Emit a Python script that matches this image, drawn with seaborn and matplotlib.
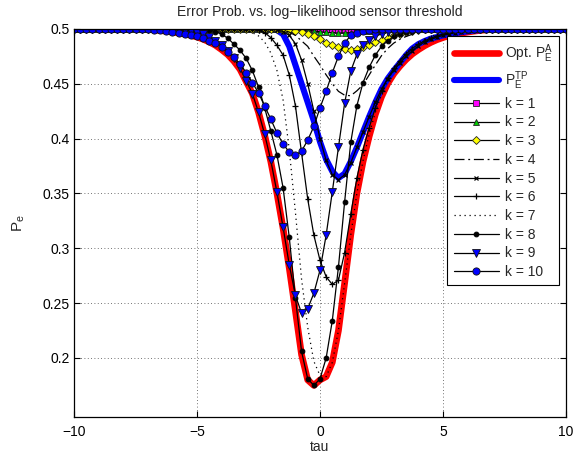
import numpy as np
import pandas as pd
import matplotlib
matplotlib.use("Agg")
import matplotlib.pyplot as plt
import seaborn as sns

# Sensor log-likelihood threshold grid
TAU = np.arange(-10.0, 10.0 + 1e-9, 0.25)

# Each curve: first threshold where it leaves 0.5, then its values (0.5 outside)
OPT_START = -7.0
OPT = [0.4995, 0.499, 0.4985, 0.4978, 0.497, 0.4962, 0.4953, 0.494, 0.4925, 0.4905,
       0.488, 0.485, 0.481, 0.4765, 0.4705, 0.463, 0.452, 0.441, 0.424, 0.403,
       0.379, 0.35, 0.318, 0.282, 0.243, 0.203, 0.18, 0.175, 0.18, 0.183,
       0.196, 0.225, 0.268, 0.312, 0.35, 0.379, 0.402, 0.422, 0.438, 0.45,
       0.459, 0.466, 0.472, 0.477, 0.481, 0.4845, 0.4875, 0.49, 0.492, 0.4937,
       0.495, 0.496, 0.497, 0.4978, 0.4985, 0.499, 0.4995]

TP_START = -2.0
TP = [0.4998, 0.4988, 0.495, 0.484, 0.467, 0.45, 0.433, 0.416, 0.397, 0.381,
      0.37, 0.364, 0.368, 0.379, 0.392, 0.406, 0.42, 0.433, 0.445, 0.4545,
      0.462, 0.469, 0.476, 0.482, 0.486, 0.4888, 0.491, 0.4925, 0.494, 0.495,
      0.496, 0.497, 0.4977, 0.4983, 0.4988, 0.4993, 0.4997]

K1_START = 0.0
K1 = [0.4998, 0.4996, 0.4994, 0.4992, 0.499, 0.4989, 0.4988, 0.4988, 0.4989, 0.499,
      0.4992, 0.4994, 0.4996, 0.4998]

K2_START = -1.0
K2 = [0.4997, 0.4993, 0.4987, 0.498, 0.4973, 0.4967, 0.4963, 0.4961, 0.4962, 0.4966,
      0.4971, 0.4977, 0.4983, 0.4988, 0.4993, 0.4997]

K3_START = -1.75
K3 = [0.4995, 0.499, 0.4985, 0.498, 0.497, 0.495, 0.493, 0.4905, 0.4875, 0.4855,
      0.483, 0.4815, 0.481, 0.4815, 0.483, 0.4855, 0.4878, 0.49, 0.492, 0.494,
      0.4955, 0.497, 0.498, 0.4988, 0.4995]

K4_START = -1.75
K4 = [0.4995, 0.499, 0.497, 0.494, 0.489, 0.484, 0.475, 0.467, 0.458, 0.45,
      0.443, 0.4395, 0.439, 0.4435, 0.449, 0.458, 0.467, 0.4755, 0.482, 0.487,
      0.4905, 0.493, 0.495, 0.4965, 0.4975, 0.4983, 0.499, 0.4995]

K5_START = -2.0
K5 = [0.4995, 0.499, 0.4975, 0.494, 0.4865, 0.4715, 0.45, 0.425, 0.4, 0.38,
      0.367, 0.3625, 0.367, 0.378, 0.392, 0.406, 0.42, 0.433, 0.445, 0.4545,
      0.462, 0.469, 0.475, 0.48, 0.4845, 0.488, 0.4905, 0.4925, 0.494, 0.4953,
      0.4965, 0.4973, 0.498, 0.4985, 0.499, 0.4995]

K6_START = -2.75
K6 = [0.4995, 0.4985, 0.4965, 0.492, 0.485, 0.476, 0.458, 0.43, 0.387, 0.345,
      0.312, 0.289, 0.274, 0.267, 0.271, 0.296, 0.331, 0.364, 0.39, 0.41,
      0.428, 0.443, 0.455, 0.464, 0.471, 0.477, 0.482, 0.486, 0.489, 0.4915,
      0.4935, 0.495, 0.4962, 0.4972, 0.498, 0.4986, 0.4991, 0.4995]

K7_START = -3.75
K7 = [0.4998, 0.4995, 0.499, 0.498, 0.4965, 0.4935, 0.488, 0.478, 0.462, 0.435,
      0.39, 0.333, 0.272, 0.228, 0.197, 0.184, 0.183, 0.196, 0.225, 0.268,
      0.312, 0.35, 0.38, 0.404, 0.424, 0.44, 0.453, 0.463, 0.471, 0.478,
      0.483, 0.487, 0.4905, 0.493, 0.495, 0.4965, 0.4975, 0.4985, 0.499, 0.4995]

K8_START = -5.0
K8 = [0.4998, 0.4995, 0.499, 0.4975, 0.495, 0.4915, 0.486, 0.4805, 0.473, 0.462,
      0.447, 0.428, 0.407, 0.385, 0.355, 0.31, 0.255, 0.206, 0.181, 0.175,
      0.181, 0.2, 0.234, 0.283, 0.342, 0.3965, 0.43, 0.451, 0.465, 0.476,
      0.484, 0.489, 0.493, 0.4955, 0.497, 0.498, 0.499, 0.4995, 0.4998]

K9_START = -6.0
K9 = [0.4998, 0.4995, 0.499, 0.498, 0.4965, 0.495, 0.4925, 0.489, 0.485, 0.48,
      0.473, 0.464, 0.4525, 0.441, 0.424, 0.404, 0.38, 0.351, 0.319, 0.285,
      0.257, 0.241, 0.245, 0.259, 0.28, 0.312, 0.3515, 0.392, 0.432, 0.4614,
      0.4767, 0.485, 0.4895, 0.493, 0.4955, 0.497, 0.498, 0.499, 0.4995]

K10_START = -7.0
K10 = [0.4995, 0.499, 0.4985, 0.4978, 0.497, 0.4963, 0.4956, 0.4945, 0.4933, 0.4915,
       0.4893, 0.487, 0.4835, 0.479, 0.474, 0.468, 0.46, 0.451, 0.4415, 0.4296,
       0.4177, 0.405, 0.395, 0.3876, 0.385, 0.3885, 0.3985, 0.411, 0.428, 0.443,
       0.46, 0.475, 0.487, 0.494, 0.4965, 0.498, 0.499, 0.4997]

X_TICKS = [-10, -5, 0, 5, 10]
Y_TICKS = [0.2, 0.25, 0.3, 0.35, 0.4, 0.45, 0.5]
Y_TICK_LABELS = ["0.2", "0.25", "0.3", "0.35", "0.4", "0.45", "0.5"]


def full_curve(start, vals):
    i0 = int(round((start - TAU[0]) / 0.25))
    out = [0.5] * i0 + list(vals)
    out += [0.5] * (len(TAU) - len(out))
    assert len(out) == len(TAU)
    return out


sns.set_style("ticks")
plt.rcParams["font.family"] = ["Liberation Sans", "DejaVu Sans"]
plt.rcParams["mathtext.fontset"] = "custom"
plt.rcParams["mathtext.rm"] = "Liberation Sans"
plt.rcParams["axes.unicode_minus"] = True

FS = 10

series = [
    ("Opt. $\\mathregular{P_E^A}$", OPT_START, OPT,
     dict(color="#ff0000", lw=4.8, linestyle="-", marker=None)),
    ("$\\mathregular{P_E^{TP}}$", TP_START, TP,
     dict(color="#0000ff", lw=4.4, linestyle="-", marker=None)),
    ("k = 1", K1_START, K1, dict(color="black", lw=0.9, linestyle="-", marker="s",
                                 markersize=4.2, markerfacecolor="#ff00ff", markeredgecolor="#222222", markeredgewidth=0.6)),
    ("k = 2", K2_START, K2, dict(color="black", lw=0.9, linestyle="-", marker="^",
                                 markersize=4.5, markerfacecolor="#00cc00", markeredgecolor="#222222", markeredgewidth=0.6)),
    ("k = 3", K3_START, K3, dict(color="black", lw=0.9, linestyle="-", marker="D",
                                 markersize=4.4, markerfacecolor="#ffff00", markeredgecolor="#222222", markeredgewidth=0.6)),
    ("k = 4", K4_START, K4, dict(color="black", lw=0.9, linestyle=(0, (8, 3, 1.5, 3)), marker=None)),
    ("k = 5", K5_START, K5, dict(color="black", lw=0.9, linestyle="-", marker="x",
                                 markersize=3.0, markeredgecolor="black", markeredgewidth=0.9)),
    ("k = 6", K6_START, K6, dict(color="black", lw=0.9, linestyle="-", marker="+",
                                 markersize=5.0, markeredgecolor="black", markeredgewidth=0.9)),
    ("k = 7", K7_START, K7, dict(color="black", lw=0.9, linestyle=(0, (1, 3)), marker=None)),
    ("k = 8", K8_START, K8, dict(color="black", lw=0.9, linestyle="-", marker="o",
                                 markersize=3.4, markerfacecolor="black", markeredgecolor="black")),
    ("k = 9", K9_START, K9, dict(color="black", lw=0.9, linestyle="-", marker="v",
                                 markersize=5.2, markerfacecolor="#0000ff", markeredgecolor="#111111", markeredgewidth=0.6)),
    ("k = 10", K10_START, K10, dict(color="black", lw=0.9, linestyle="-", marker="o",
                                    markersize=5.2, markerfacecolor="#0000ff", markeredgecolor="#111111", markeredgewidth=0.6)),
]

frames = []
for name, start, vals, _ in series:
    frames.append(pd.DataFrame({"tau": TAU, "Pe": full_curve(start, vals), "curve": name}))
data = pd.concat(frames, ignore_index=True)

fig = plt.figure(figsize=(5.76, 4.58), dpi=100)
ax = fig.add_axes([74 / 576, 1 - 416.7 / 458, 492 / 576, (416.7 - 28.8) / 458])

for name, _, _, style in series:
    sub = data[data["curve"] == name]
    sns.lineplot(data=sub, x="tau", y="Pe", ax=ax, label=name,
                 estimator=None, sort=False, **style)

ax.set_xlim(-10, 10)
ax.set_ylim(0.1465, 0.5)
ax.set_xticks(X_TICKS)
ax.set_yticks(Y_TICKS)
ax.set_yticklabels(Y_TICK_LABELS)
ax.tick_params(direction="in", length=4, width=0.8, top=True, right=True,
               labelsize=FS, colors="black")
ax.tick_params(axis="x", pad=6)
ax.tick_params(axis="y", pad=3)
for s in ax.spines.values():
    s.set_linewidth(0.9)
    s.set_color("black")
    s.set_visible(True)
ax.grid(True, linestyle=(0, (1, 3)), color="#444444", linewidth=0.6)

ax.set_title("Error Prob. vs. log\u2212likelihood sensor threshold", fontsize=FS, pad=9)
ax.set_xlabel("tau", fontsize=FS, labelpad=1)
ax.set_ylabel("$\\mathregular{P_e}$", fontsize=FS + 1, labelpad=11)

leg = ax.legend(loc="upper right", bbox_to_anchor=(0.986, 0.982), borderaxespad=0,
                fontsize=FS, handlelength=3.3, handletextpad=0.4, labelspacing=0.34,
                frameon=True, fancybox=False, framealpha=1, edgecolor="black",
                borderpad=0.45)
leg.get_frame().set_linewidth(0.8)

fig.savefig("out.png", dpi=100)
